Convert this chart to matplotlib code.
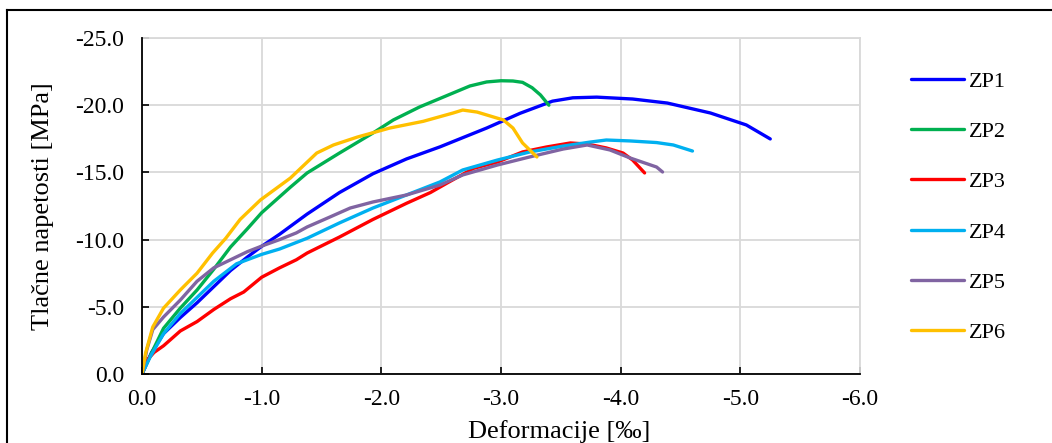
import matplotlib
matplotlib.use("Agg")
import matplotlib.pyplot as plt
from matplotlib.lines import Line2D

plt.rcParams['font.family'] = ['Liberation Serif', 'DejaVu Serif']

# strain [‰] / stress [MPa] readings for each specimen
zp1_x = [0, -0.08, -0.18, -0.32, -0.46, -0.60, -0.74, -0.88, -1.00, -1.15, -1.38, -1.65, -1.93,
         -2.21, -2.49, -2.88, -3.16, -3.43, -3.60, -3.80, -4.10, -4.39, -4.75, -5.05, -5.25]
zp1_y = [0, -1.6, -3.0, -4.2, -5.3, -6.5, -7.7, -8.7, -9.5, -10.4, -11.9, -13.5, -14.9,
         -16.0, -16.9, -18.3, -19.4, -20.3, -20.55, -20.6, -20.46, -20.16, -19.42, -18.53, -17.49]

zp2_x = [0, -0.06, -0.18, -0.32, -0.46, -0.60, -0.74, -0.88, -1.00, -1.24, -1.38, -1.65, -1.93,
         -2.10, -2.32, -2.60, -2.74, -2.88, -3.00, -3.10, -3.18, -3.26, -3.33, -3.40]
zp2_y = [0, -1.2, -3.4, -4.9, -6.25, -7.8, -9.45, -10.8, -12.0, -13.9, -14.96, -16.44, -17.93,
         -18.9, -19.87, -20.91, -21.43, -21.73, -21.82, -21.8, -21.7, -21.3, -20.76, -20.0]

zp3_x = [0, -0.05, -0.10, -0.18, -0.32, -0.46, -0.60, -0.74, -0.85, -1.00, -1.15, -1.29, -1.38,
         -1.65, -1.93, -2.21, -2.41, -2.55, -2.77, -2.97, -3.18, -3.38, -3.58, -3.72, -3.88,
         -4.02, -4.10, -4.20]
zp3_y = [0, -1.1, -1.6, -2.1, -3.2, -3.9, -4.8, -5.6, -6.1, -7.2, -7.9, -8.5, -9.0,
         -10.19, -11.5, -12.7, -13.5, -14.21, -15.3, -15.77, -16.52, -16.89, -17.19, -17.11, -16.82,
         -16.44, -15.92, -14.96]

zp4_x = [0, -0.07, -0.18, -0.32, -0.46, -0.60, -0.79, -1.00, -1.15, -1.38, -1.65, -1.93, -2.21,
         -2.49, -2.68, -2.97, -3.24, -3.52, -3.74, -3.88, -4.08, -4.30, -4.44, -4.60]
zp4_y = [0, -1.3, -3.0, -4.5, -5.7, -6.9, -8.2, -8.9, -9.3, -10.1, -11.24, -12.35, -13.32,
         -14.29, -15.18, -15.92, -16.52, -16.96, -17.25, -17.41, -17.34, -17.22, -17.04, -16.59]

zp5_x = [0, -0.04, -0.09, -0.18, -0.32, -0.46, -0.60, -0.74, -0.88, -1.01, -1.15, -1.29, -1.38,
         -1.57, -1.74, -1.93, -2.21, -2.49, -2.68, -2.97, -3.24, -3.52, -3.72, -3.91, -4.08,
         -4.30, -4.35]
zp5_y = [0, -1.8, -3.3, -4.24, -5.5, -6.9, -7.9, -8.5, -9.1, -9.55, -10.0, -10.5, -10.94,
         -11.68, -12.35, -12.8, -13.32, -14.06, -14.81, -15.55, -16.15, -16.74, -17.04, -16.67, -16.07,
         -15.4, -15.03]

zp6_x = [0, -0.03, -0.09, -0.18, -0.32, -0.46, -0.59, -0.70, -0.82, -0.99, -1.24, -1.46, -1.60,
         -1.80, -2.07, -2.35, -2.60, -2.68, -2.80, -3.02, -3.10, -3.18, -3.30]
zp6_y = [0, -1.56, -3.5, -4.9, -6.25, -7.5, -9.0, -10.1, -11.5, -12.95, -14.58, -16.44, -17.04,
         -17.63, -18.3, -18.8, -19.42, -19.64, -19.49, -18.9, -18.3, -17.19, -16.15]

labels = ['ZP1', 'ZP2', 'ZP3', 'ZP4', 'ZP5', 'ZP6']
colors = ['#0000FF', '#00B050', '#FF0000', '#00B0F0', '#8064A2', '#FFC000']
series = [(zp1_x, zp1_y), (zp2_x, zp2_y), (zp3_x, zp3_y),
          (zp4_x, zp4_y), (zp5_x, zp5_y), (zp6_x, zp6_y)]

x_ticks = [0.0, -1.0, -2.0, -3.0, -4.0, -5.0, -6.0]
y_ticks = [0.0, -5.0, -10.0, -15.0, -20.0, -25.0]

W, H = 1052, 443
fig = plt.figure(figsize=(W / 100, H / 100), dpi=100)
ax = fig.add_axes([142 / W, 1 - 374 / H, (860 - 142) / W, (374 - 38) / H])

for (xs, ys), lab, c in zip(series, labels, colors):
    ax.plot(xs, ys, color=c, lw=2.4, label=lab, solid_capstyle='round',
            solid_joinstyle='round', zorder=3)

ax.set_xlim(0, -6)
ax.set_ylim(0, -25)
ax.set_xticks(x_ticks)
ax.set_yticks(y_ticks)
ax.set_xticklabels([f'{v:.1f}' if v else '0.0' for v in x_ticks])
ax.set_yticklabels([f'{v:.1f}' if v else '0.0' for v in y_ticks])
ax.grid(True, color='#d9d9d9', lw=1.3, zorder=0)
ax.tick_params(direction='in', length=5, width=1.2, labelsize=17, colors='black')
ax.tick_params(axis='y', pad=13)
ax.tick_params(axis='x', pad=11)
for s in ['left', 'bottom']:
    ax.spines[s].set_linewidth(1.3)
    ax.spines[s].set_zorder(4)
for s in ['top', 'right']:
    ax.spines[s].set_color('#d9d9d9')
    ax.spines[s].set_linewidth(1.3)

fig.text(43 / W, 1 - 206 / H, 'Tlačne napetosti [MPa]', rotation=90,
         ha='center', va='center', fontsize=19)
fig.text(559 / W, 5 / H, 'Deformacije [‰]', ha='center', va='baseline', fontsize=19)

fig.legend(loc='upper left', bbox_to_anchor=(891 / W, 1 - 51 / H), frameon=False,
           fontsize=16, handlelength=2.4, handletextpad=0.2, labelspacing=1.34)

# border around the chart area
fig.add_artist(Line2D([7 / W, 7 / W], [0, 1 - 10 / H], color='black', lw=1.5))
fig.add_artist(Line2D([7 / W, 1], [1 - 10 / H, 1 - 10 / H], color='black', lw=1.5))

fig.savefig('out.png', dpi=100)
